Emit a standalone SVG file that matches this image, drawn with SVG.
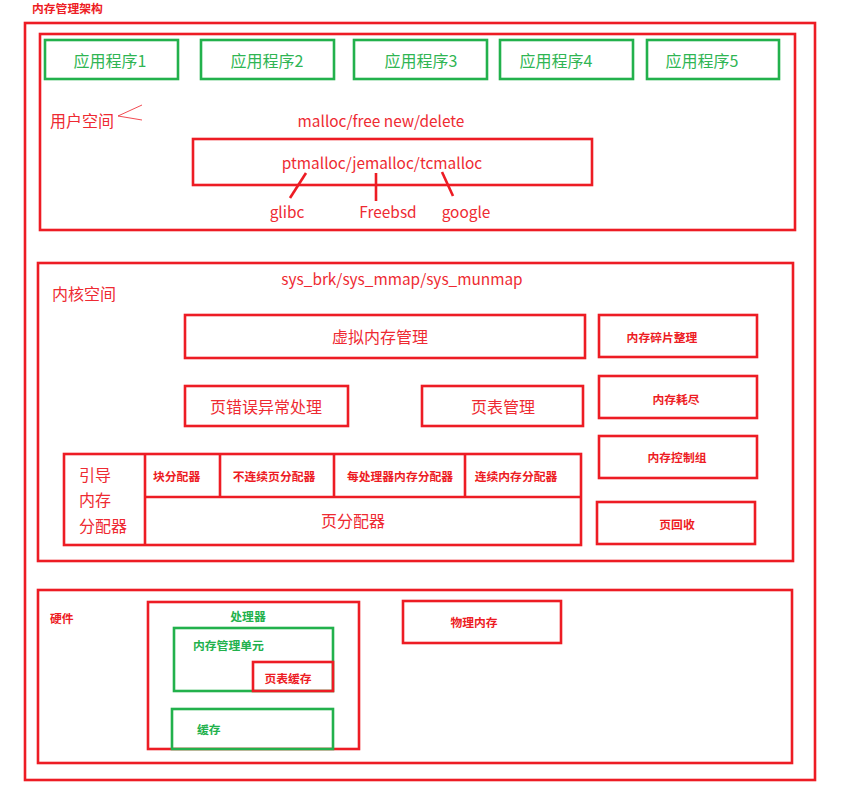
<svg xmlns="http://www.w3.org/2000/svg" width="845" height="798" viewBox="0 0 845 798">
<style>
.r{fill:none;stroke:#ed1c24;stroke-width:2.6}
.g{fill:none;stroke:#22b14c;stroke-width:2.6}
text{font-family:"Noto Sans CJK SC","Noto Sans",sans-serif}
.tr{fill:#ee2a32;font-size:16px}
.lt{font-size:15.4px}
.tg{fill:#2fb553;font-size:16px}
.br{fill:#ed1c24;font-size:11.8px;font-weight:bold}
.bg{fill:#22b14c;font-size:11.8px;font-weight:bold}
.m{text-anchor:middle}
.ln{stroke:#ed1c24;stroke-width:2.6;fill:none}
</style>
<rect width="845" height="798" fill="#fff"/>
<text x="32" y="13" class="br">内存管理架构</text>
<rect class="r" x="25" y="23" width="790" height="757"/>

<g id="user-space">
<rect class="r" x="40" y="34" width="755" height="196"/>
<text x="50" y="127" class="tr">用户空间</text>
<path d="M142,105 L118,116 L142,120" stroke="#ed1c24" stroke-width="0.8" fill="none"/>
<text x="381" y="127" class="tr lt m">malloc/free new/delete</text>
</g>
<g id="app1"><rect class="g" x="45" y="40" width="133" height="39"/><text x="110" y="67" class="tg m">应用程序1</text></g>
<g id="app2"><rect class="g" x="201" y="40" width="133" height="39"/><text x="267" y="67" class="tg m">应用程序2</text></g>
<g id="app3"><rect class="g" x="354" y="40" width="133" height="39"/><text x="421" y="67" class="tg m">应用程序3</text></g>
<g id="app4"><rect class="g" x="500" y="40" width="133" height="39"/><text x="556" y="67" class="tg m">应用程序4</text></g>
<g id="app5"><rect class="g" x="647" y="40" width="132" height="39"/><text x="702" y="67" class="tg m">应用程序5</text></g>
<g id="allocators"><rect class="r" x="193" y="139" width="399" height="46"/><text x="382" y="169" class="tr lt m">ptmalloc/jemalloc/tcmalloc</text></g>
<g id="glibc"><text x="287" y="218" class="tr lt m">glibc</text></g>
<g id="freebsd"><text x="388" y="218" class="tr lt m">Freebsd</text></g>
<g id="google"><text x="466" y="218" class="tr lt m">google</text></g>

<g id="kernel-space">
<rect class="r" x="38" y="263" width="755" height="298"/>
<text x="52" y="300" class="tr">内核空间</text>
<text x="402" y="285" class="tr lt m">sys_brk/sys_mmap/sys_munmap</text>
</g>
<g id="vmm"><rect class="r" x="185" y="315" width="400" height="43"/><text x="380" y="343" class="tr m">虚拟内存管理</text></g>
<g id="pagefault"><rect class="r" x="185" y="386" width="163" height="40"/><text x="266" y="413" class="tr m">页错误异常处理</text></g>
<g id="pagetable"><rect class="r" x="422" y="386" width="161" height="40"/><text x="503" y="413" class="tr m">页表管理</text></g>
<g id="compaction"><rect class="r" x="599" y="315" width="158" height="42"/><text x="662" y="342" class="br m">内存碎片整理</text></g>
<g id="oom"><rect class="r" x="599" y="376" width="158" height="42"/><text x="676" y="404" class="br m">内存耗尽</text></g>
<g id="memcg"><rect class="r" x="599" y="436" width="158" height="42"/><text x="677" y="462" class="br m">内存控制组</text></g>
<g id="reclaim"><rect class="r" x="597" y="502" width="158" height="42"/><text x="677" y="529" class="br m">页回收</text></g>
<g id="alloc-block">
<rect class="r" x="64" y="454" width="517" height="91"/>
<line class="ln" x1="145" y1="454" x2="145" y2="545"/>
<line class="ln" x1="145" y1="497" x2="581" y2="497"/>
<line class="ln" x1="220" y1="454" x2="220" y2="497"/>
<line class="ln" x1="334" y1="454" x2="334" y2="497"/>
<line class="ln" x1="465" y1="454" x2="465" y2="497"/>
</g>
<g id="bootmem"><text x="79" y="481" class="tr">引导</text><text x="79" y="506" class="tr">内存</text><text x="79" y="532" class="tr">分配器</text></g>
<g id="slab"><text x="153" y="481" class="br">块分配器</text></g>
<g id="vmalloc"><text x="274" y="481" class="br m">不连续页分配器</text></g>
<g id="percpu"><text x="400" y="481" class="br m">每处理器内存分配器</text></g>
<g id="cma"><text x="516" y="481" class="br m">连续内存分配器</text></g>
<g id="buddy"><text x="353" y="527" class="tr m">页分配器</text></g>

<g id="hardware">
<rect class="r" x="38" y="590" width="754" height="173"/>
<text x="50" y="623" class="br">硬件</text>
</g>
<g id="cpu"><rect class="r" x="148" y="602" width="211" height="147"/><text x="248" y="621" class="bg m">处理器</text></g>
<g id="mmu"><rect class="g" x="174" y="628" width="159" height="63"/><text x="193" y="650" class="bg">内存管理单元</text></g>
<g id="tlb"><rect class="r" x="253" y="662" width="80" height="29"/><text x="288" y="683" class="br m">页表缓存</text></g>
<g id="cache"><rect class="g" x="172" y="709" width="161" height="40"/><text x="197" y="734" class="bg">缓存</text></g>
<g id="phys"><rect class="r" x="403" y="601" width="158" height="42"/><text x="474" y="627" class="br m">物理内存</text></g>

<g id="connectors">
<line class="ln" x1="306" y1="173" x2="290" y2="198"/>
<line class="ln" x1="376" y1="173" x2="376" y2="201"/>
<line class="ln" x1="442" y1="172" x2="453" y2="196"/>
</g>
</svg>
